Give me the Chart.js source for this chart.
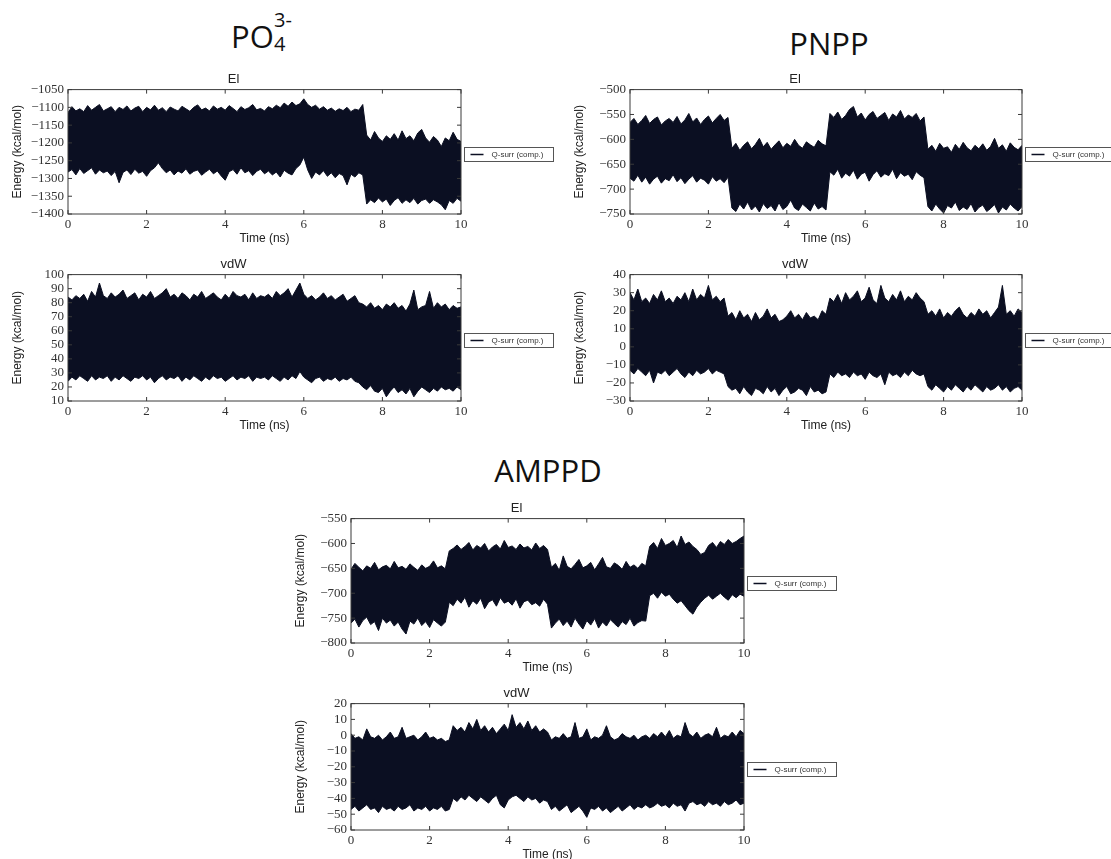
<!DOCTYPE html>
<html>
<head>
<meta charset="utf-8">
<script src="https://cdn.jsdelivr.net/npm/chart.js@4.4.1/dist/chart.umd.min.js"></script>
<style>
  html, body { margin: 0; padding: 0; background: #fff; }
  body { width: 1111px; height: 859px; position: relative; overflow: hidden; }
  .big { position: absolute; font-family: "Open Sans", sans-serif; font-size: 31px; line-height: 32px; color: #111; white-space: nowrap; }
  .small { position: absolute; font-family: "Open Sans", sans-serif; font-size: 20px; line-height: 20px; color: #111; }
  .center { width: 200px; text-align: center; }
  .panel { position: absolute; }
</style>
</head>
<body>

<div class="big" style="left:231px; top:20px;">PO</div>
<div class="small" style="left:274px; top:10px;">3-</div>
<div class="small" style="left:274px; top:34px;">4</div>
<div class="big center" style="left:729px; top:27px;">PNPP</div>
<div class="big center" style="left:448px; top:454px;">AMPPD</div>

<script>
// ==========================================
// データ (0.1 ns 刻みで読み取った上下の包絡線)
// ==========================================
const TIME_STEP = 0.1;
const xTicks = [0, 2, 4, 6, 8, 10];
const legendLabel = "Q-surr (comp.)";

// PO4 3- : El
const po4ElTicks = [-1400, -1350, -1300, -1250, -1200, -1150, -1100, -1050];
const po4ElHigh = [
  -1115,-1098,-1110,-1104,-1112,-1095,-1108,-1100,-1092,-1110,
  -1104,-1098,-1112,-1100,-1106,-1096,-1110,-1102,-1097,-1112,
  -1100,-1107,-1094,-1108,-1101,-1112,-1099,-1105,-1110,-1097,
  -1104,-1111,-1100,-1093,-1107,-1102,-1110,-1096,-1105,-1100,
  -1108,-1095,-1103,-1112,-1098,-1106,-1101,-1092,-1107,-1103,
  -1110,-1098,-1104,-1094,-1101,-1088,-1097,-1085,-1095,-1090,
  -1076,-1092,-1100,-1094,-1105,-1098,-1108,-1102,-1111,-1104,
  -1109,-1100,-1112,-1105,-1108,-1092,
  -1178,-1192,-1168,-1186,
  -1196,-1180,-1190,-1174,-1192,-1166,-1188,-1180,-1194,-1172,
  -1162,-1186,-1198,-1182,-1192,-1210,-1186,-1194,-1170,-1190,
  -1196
];
const po4ElLow = [
  -1282,-1275,-1290,-1272,-1286,-1278,-1270,-1288,-1276,-1284,
  -1279,-1292,-1280,-1312,-1283,-1276,-1289,-1274,-1285,-1280,
  -1294,-1278,-1270,-1256,-1272,-1284,-1276,-1290,-1279,-1285,
  -1273,-1288,-1280,-1276,-1291,-1282,-1274,-1287,-1279,-1293,
  -1305,-1281,-1275,-1288,-1270,-1284,-1278,-1292,-1280,-1274,
  -1287,-1279,-1290,-1282,-1296,-1277,-1285,-1290,-1272,-1262,
  -1240,-1276,-1300,-1282,-1290,-1278,-1294,-1284,-1298,-1286,
  -1292,-1318,-1288,-1296,-1284,-1290,
  -1372,-1360,-1368,-1355,
  -1366,-1358,-1376,-1362,-1354,-1370,-1360,-1368,-1356,-1372,
  -1362,-1358,-1370,-1360,-1366,-1374,-1388,-1362,-1370,-1356,
  -1364
];

// PO4 3- : vdW
const po4VdwTicks = [10, 20, 30, 40, 50, 60, 70, 80, 90, 100];
const po4VdwHigh = [
  84,82,85,83,86,81,88,84,94,85, 83,87,84,86,89,83,85,87,82,86, 84,88,83,85,87,
  90,84,86,83,87,85,82,86,84,88, 83,85,87,84,82,86,83,88,85,84, 86,82,87,83,85,
  84,86,83,88,85,87,90,84,89,94, 86,83,85,82,84,87,83,85,82,84, 86,81,83,85,80,
  79,77,80,76,78,75,79,77,80,76, 78,74,79,89,75,77,78,88,76,80, 77,79,75,78,76,77
];
const po4VdwLow = [
  24,27,25,28,26,24,28,25,27,26, 28,24,27,25,28,26,24,27,26,28, 25,27,23,26,28,
  25,27,26,28,24,27,25,28,26,24, 27,25,28,26,27,24,26,28,25,27, 26,28,24,27,26,
  27,25,28,26,24,27,25,28,26,31, 27,25,23,26,27,24,26,25,27,24, 26,25,27,24,23,
  20,18,21,17,16,19,13,17,20,16, 18,15,19,13,17,20,18,16,19,17, 20,18,19,17,20,18
];

// PNPP : El
const pnppElTicks = [-750, -700, -650, -600, -550, -500];
const pnppElHigh = [
  -566,-558,-570,-562,-552,-568,-560,-555,-571,-563, -558,-566,-554,-569,-561,-548,-565,-557,-570,-560, -553,-567,-558,-550,-562,-556,
  -618,-608,-622,-612,-605,-619,-610,-598,-615,-606, -620,-611,-603,-617,-608,-614,-600,-612,-618,-605, -611,-616,-602,-609,-613,
  -548,-556,-545,-560,-552,-540,-534,-555,-547,-561, -550,-544,-558,-552,-546,-562,-549,-555,-542,-559, -551,-556,-548,-563,-555,
  -620,-612,-624,-608,-618,-615,-626,-610,-620,-606, -617,-623,-612,-619,-609,-622,-614,-598,-618,-611, -624,-607,-616,-621,-612
];
const pnppElLow = [
  -678,-684,-672,-686,-676,-690,-680,-674,-688,-679, -683,-671,-685,-677,-689,-680,-673,-686,-678,-682, -690,-675,-684,-679,-687,-676,
  -738,-745,-730,-740,-726,-742,-734,-746,-729,-739, -733,-744,-727,-741,-735,-722,-738,-743,-730,-737, -744,-728,-740,-735,-742,
  -665,-672,-660,-678,-668,-674,-662,-680,-670,-666, -684,-671,-663,-676,-669,-673,-660,-679,-667,-674, -670,-681,-665,-672,-677,
  -735,-744,-730,-740,-748,-733,-738,-726,-743,-736, -741,-729,-746,-737,-732,-745,-739,-731,-748,-736, -742,-730,-738,-744,-735
];

// PNPP : vdW
const pnppVdwTicks = [-30, -20, -10, 0, 10, 20, 30, 40];
const pnppVdwHigh = [
  30,26,32,25,27,24,29,26,31,25, 27,24,28,26,30,25,32,26,29,27, 34,26,28,25,27,
  17,19,15,20,16,18,14,19,15,17, 21,16,18,14,15,17,20,16,18,15, 19,16,17,15,20,
  18,27,25,29,24,30,26,28,31,25, 27,33,26,24,34,27,25,29,26,31, 25,28,26,30,27,
  25,18,20,17,21,16,19,17,20,22, 18,16,19,17,21,18,20,16,19,22, 34,18,20,17,21,19
];
const pnppVdwLow = [
  -13,-15,-12,-14,-16,-13,-20,-14,-15,-13, -16,-14,-12,-15,-17,-14,-16,-13,-15,-14, -12,-15,-13,-14,-15,
  -22,-24,-23,-26,-22,-25,-27,-23,-24,-26, -22,-25,-23,-27,-24,-22,-26,-25,-23,-24, -27,-22,-25,-24,-26,
  -25,-15,-17,-14,-16,-15,-17,-14,-16,-15, -18,-14,-16,-17,-15,-21,-14,-16,-15,-17, -14,-16,-13,-15,-16,
  -15,-22,-24,-21,-23,-25,-22,-24,-21,-23, -25,-22,-24,-21,-23,-25,-22,-24,-23,-21, -24,-22,-25,-23,-22,-24
];

// AMPPD : El
const amppdElTicks = [-800, -750, -700, -650, -600, -550];
const amppdElHigh = [
  -652,-640,-648,-655,-645,-650,-638,-653,-647,-644, -651,-636,-649,-646,-652,-641,-648,-654,-643,-650, -646,-635,-649,-645,-651,
  -615,-610,-603,-612,-606,-598,-613,-604,-609,-600, -615,-607,-602,-611,-594,-608,-605,-612,-601,-609, -606,-613,-599,-610,-604,
  -612,-648,-640,-654,-625,-646,-651,-642,-632,-649, -645,-638,-653,-641,-628,-647,-650,-639,-644,-652, -636,-648,-643,-650,-640,
  -645,-606,-598,-610,-590,-604,-600,-594,-608,-585, -602,-597,-606,-612,-622,-618,-604,-598,-608,-596, -602,-592,-600,-596,-590,-585
];
const amppdElLow = [
  -760,-752,-768,-755,-748,-763,-757,-775,-750,-760, -754,-766,-758,-772,-782,-756,-762,-750,-765,-757, -769,-753,-760,-766,-758,
  -718,-725,-712,-720,-708,-728,-715,-722,-710,-731, -718,-713,-726,-709,-720,-716,-724,-711,-730,-717, -714,-723,-719,-726,-712,
  -722,-770,-760,-752,-765,-756,-768,-750,-762,-772, -755,-764,-751,-770,-758,-766,-753,-761,-768,-757, -763,-750,-766,-759,-755,
  -756,-705,-700,-710,-698,-706,-702,-712,-720,-715, -725,-735,-742,-728,-718,-710,-704,-712,-706,-700, -708,-714,-703,-709,-702,-706
];

// AMPPD : vdW
const amppdVdwTicks = [-60, -50, -40, -30, -20, -10, 0, 10, 20];
const amppdVdwHigh = [
  1,-2,-1,-3,4,-1,-2,0,-3,-1, 2,-2,-1,5,-2,-1,0,-3,-1,2, -2,-1,-3,-2,-4,
  -3,6,3,5,2,8,4,10,3,6, 2,5,1,4,7,3,13,5,8,4, 9,3,6,2,4,
  2,-3,-1,-2,1,-2,-1,8,-2,-1, 4,-3,-1,-2,0,6,-1,-3,-2,1, -1,-2,0,-3,-1,
  0,-2,1,-1,2,-1,3,-2,0,-1, 8,1,-1,2,-2,0,1,-1,5,-2, 0,-1,2,-1,3,1
];
const amppdVdwLow = [
  -47,-45,-48,-46,-44,-47,-46,-49,-45,-47, -46,-48,-45,-47,-46,-44,-48,-46,-47,-45, -48,-46,-47,-45,-48,
  -47,-40,-42,-39,-41,-38,-40,-42,-39,-41, -43,-40,-38,-44,-46,-41,-39,-38,-40,-42, -39,-41,-40,-43,-41,
  -42,-47,-45,-48,-46,-44,-49,-47,-45,-48, -52,-46,-47,-45,-48,-46,-49,-47,-45,-48, -46,-44,-47,-45,-46,
  -44,-46,-45,-43,-45,-44,-46,-43,-45,-44, -48,-43,-42,-44,-43,-45,-42,-44,-43,-45, -42,-44,-43,-41,-44,-43
];

// ==========================================
// レイアウト (プロット領域の位置: left, top, right, bottom)
// ==========================================
const panels = [
  { title: "El",  hi: po4ElHigh,    lo: po4ElLow,    yTicks: po4ElTicks,    box: [68, 90, 461, 213] },
  { title: "vdW", hi: po4VdwHigh,   lo: po4VdwLow,   yTicks: po4VdwTicks,   box: [68, 275, 461, 400] },
  { title: "El",  hi: pnppElHigh,   lo: pnppElLow,   yTicks: pnppElTicks,   box: [630, 90, 1022, 213] },
  { title: "vdW", hi: pnppVdwHigh,  lo: pnppVdwLow,  yTicks: pnppVdwTicks,  box: [630, 275, 1022, 400] },
  { title: "El",  hi: amppdElHigh,  lo: amppdElLow,  yTicks: amppdElTicks,  box: [351, 519, 744, 642] },
  { title: "vdW", hi: amppdVdwHigh, lo: amppdVdwLow, yTicks: amppdVdwTicks, box: [351, 704, 744, 829] }
];

const INK = "#0b0f22";
const SANS = "'Liberation Sans', Arial, sans-serif";
const SERIF = "'Liberation Serif', 'Times New Roman', serif";
const AXIS_W = 62;
const XAXIS_H = 34;
const TITLE_H = 19;
const LEGEND_W = 100;

const fmtMinus = v => (v < 0 ? "\u2212" + Math.abs(v) : String(v));

// 枠線・内向き目盛り・凡例ボックス
const framePlugin = {
  id: "frame",
  afterDatasetsDraw(chart) {
    const { ctx, chartArea: a, scales: { x, y } } = chart;
    ctx.save();
    ctx.strokeStyle = "#3a3a3a";
    ctx.lineWidth = 1;
    ctx.strokeRect(a.left, a.top, a.right - a.left, a.bottom - a.top);

    ctx.beginPath();
    x.ticks.forEach(t => {
      const px = x.getPixelForValue(t.value);
      ctx.moveTo(px, a.bottom); ctx.lineTo(px, a.bottom - 4);
      ctx.moveTo(px, a.top); ctx.lineTo(px, a.top + 4);
    });
    y.ticks.forEach(t => {
      const py = y.getPixelForValue(t.value);
      ctx.moveTo(a.left, py); ctx.lineTo(a.left + 4, py);
      ctx.moveTo(a.right, py); ctx.lineTo(a.right - 4, py);
    });
    ctx.stroke();

    // 凡例
    const lx = Math.round(a.right + 3) + 0.5;
    const ly = Math.round((a.top + a.bottom) / 2 - 5) + 0.5;
    ctx.strokeStyle = "#555";
    ctx.strokeRect(lx, ly, 89, 14);
    ctx.strokeStyle = INK;
    ctx.lineWidth = 1.5;
    ctx.beginPath();
    ctx.moveTo(lx + 6, ly + 7); ctx.lineTo(lx + 19, ly + 7);
    ctx.stroke();
    ctx.fillStyle = "#333";
    ctx.font = "8px " + SANS;
    ctx.textBaseline = "middle";
    ctx.fillText(chart.data.datasets[0].label, lx + 27, ly + 7.5);
    ctx.restore();
  }
};

function buildPanel(p) {
  const [l, t, r, b] = p.box;
  const wrap = document.createElement("div");
  wrap.className = "panel";
  document.body.appendChild(wrap);
  const canvas = document.createElement("canvas");
  canvas.width = AXIS_W + (r - l) + LEGEND_W;
  canvas.height = TITLE_H + (b - t) + XAXIS_H;
  wrap.appendChild(canvas);

  const toPoints = arr => arr.map((v, i) => ({ x: +(i * TIME_STEP).toFixed(1), y: v }));
  const yMin = p.yTicks[0];
  const yMax = p.yTicks[p.yTicks.length - 1];

  const chart = new Chart(canvas, {
    type: "line",
    data: {
      datasets: [
        { label: legendLabel, data: toPoints(p.hi), borderColor: INK, backgroundColor: INK,
          borderWidth: 1, pointRadius: 0, tension: 0, fill: "+1" },
        { label: "", data: toPoints(p.lo), borderColor: INK, backgroundColor: INK,
          borderWidth: 1, pointRadius: 0, tension: 0, fill: false }
      ]
    },
    options: {
      responsive: false,
      maintainAspectRatio: false,
      animation: false,
      layout: { padding: { left: 0, right: LEGEND_W, top: 0, bottom: 0 } },
      plugins: {
        legend: { display: false },
        tooltip: { enabled: false },
        title: {
          display: true, text: p.title, color: "#222",
          font: { family: SANS, size: 13, weight: "normal" },
          padding: { top: 0, bottom: 2 }
        }
      },
      scales: {
        x: {
          type: "linear", min: 0, max: 10,
          afterBuildTicks: s => { s.ticks = xTicks.map(v => ({ value: v })); },
          afterFit: s => { s.height = XAXIS_H; },
          grid: { display: false, drawTicks: false }, border: { display: false },
          ticks: { font: { family: SERIF, size: 13 }, color: "#333", padding: 3, maxRotation: 0, autoSkip: false },
          title: { display: true, text: "Time (ns)", color: "#222",
                   font: { family: SANS, size: 12 }, padding: { top: 2, bottom: 2 } }
        },
        y: {
          min: yMin, max: yMax,
          afterBuildTicks: s => { s.ticks = p.yTicks.map(v => ({ value: v })); },
          afterFit: s => { s.width = AXIS_W; },
          grid: { display: false, drawTicks: false }, border: { display: false },
          ticks: { font: { family: SERIF, size: 13 }, color: "#333", padding: 4, autoSkip: false, callback: fmtMinus },
          title: { display: true, text: "Energy (kcal/mol)", color: "#222",
                   font: { family: SANS, size: 12 }, padding: { top: 4, bottom: 0 } }
        }
      }
    },
    plugins: [framePlugin]
  });

  // プロット領域が目標位置に来るようにずらす
  const a = chart.chartArea;
  wrap.style.left = (l - a.left) + "px";
  wrap.style.top = (t - a.top) + "px";
}

panels.forEach(buildPanel);
</script>
</body>
</html>
